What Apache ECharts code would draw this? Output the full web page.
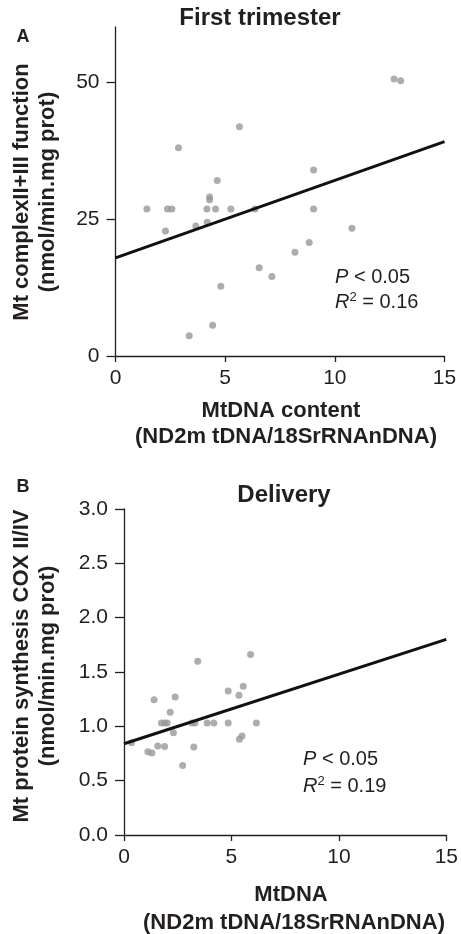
<!DOCTYPE html>
<html>
<head>
<meta charset="utf-8">
<script src="https://cdn.jsdelivr.net/npm/echarts@6/dist/echarts.min.js"></script>
<style>html,body{margin:0;padding:0;background:#fff}#c{width:461px;height:934px}</style>
</head>
<body>
<div id="c"></div>
<script>
// Panel A: First trimester
const trimesterX = [12.7, 13.0, 5.65, 2.87, 9.03, 4.64, 4.29, 4.29, 1.43, 2.37, 2.57, 4.17, 4.56, 5.26, 6.36, 9.03, 3.66, 4.18, 2.28, 10.78, 8.83, 8.18, 6.55, 7.13, 4.8, 4.43, 3.36];
const trimesterY = [50.5, 50.2, 41.8, 38.0, 33.9, 32.0, 29.0, 28.5, 26.8, 26.8, 26.8, 26.8, 26.8, 26.8, 26.8, 26.8, 23.7, 24.4, 22.8, 23.3, 20.7, 18.9, 16.1, 14.5, 12.7, 5.6, 3.7];
const trimesterFitX = [0, 15];
const trimesterFitY = [17.9, 39.1];
const trimesterYTicks = [0, 25, 50];
const trimesterXTicks = [0, 5, 10, 15];

// Panel B: Delivery
const deliveryX = [5.89, 3.43, 1.40, 2.38, 4.85, 5.35, 5.55, 2.15, 1.74, 1.89, 2.01, 3.17, 3.30, 3.87, 4.18, 4.85, 6.16, 2.30, 5.49, 5.37, 0.35, 1.57, 1.89, 3.25, 1.11, 1.30, 2.73];
const deliveryY = [1.66, 1.60, 1.245, 1.27, 1.325, 1.285, 1.37, 1.13, 1.03, 1.03, 1.03, 1.03, 1.03, 1.03, 1.03, 1.03, 1.03, 0.94, 0.91, 0.88, 0.85, 0.82, 0.815, 0.81, 0.766, 0.754, 0.64];
const deliveryFitX = [0, 15];
const deliveryFitY = [0.84, 1.80];
const deliveryYTicks = [0, 0.5, 1.0, 1.5, 2.0, 2.5, 3.0];
const deliveryXTicks = [0, 5, 10, 15];

const zip = (a, b) => a.map((v, i) => [v, b[i]]);
const FONT = '"Liberation Sans", Arial, sans-serif';
const INK = '#231f20';

function xAxis(gridIndex, ticks) {
  return {
    type: 'value', gridIndex, min: 0, max: 15, interval: 5,
    splitLine: { show: false },
    axisLine: { show: true, onZero: false, lineStyle: { color: INK, width: 1.3 } },
    axisTick: { show: true, length: 6, lineStyle: { color: INK, width: 1.3 }, customValues: ticks },
    axisLabel: { color: INK, fontSize: 21, fontFamily: FONT, margin: 12, customValues: ticks }
  };
}
function yAxis(gridIndex, max, interval, ticks, fmt) {
  return {
    type: 'value', gridIndex, min: 0, max, interval,
    splitLine: { show: false },
    axisLine: { show: true, onZero: false, lineStyle: { color: INK, width: 1.3 } },
    axisTick: { show: true, length: 9, lineStyle: { color: INK, width: 1.3 }, customValues: ticks },
    axisLabel: { color: INK, fontSize: 21, fontFamily: FONT, margin: 16, customValues: ticks, formatter: fmt }
  };
}

const chart = echarts.init(document.getElementById('c'), null, { renderer: 'canvas' });
const statRich = {
  i: { fontStyle: 'italic', fontSize: 20, fontFamily: FONT, fill: INK },
  s: { fontSize: 13, fontFamily: FONT, fill: INK, verticalAlign: 'top', padding: [0, 0, 10, 0] },
  n: { fontSize: 20, fontFamily: FONT, fill: INK }
};
function statText(x, y, txt) {
  return { type: 'text', left: x, top: y, style: { text: txt, rich: statRich, fill: INK, font: '20px ' + FONT } };
}
function boldText(x, y, txt, size, rot) {
  return {
    type: 'text', x, y, rotation: rot || 0,
    style: { text: txt, fill: INK, font: 'bold ' + size + 'px ' + FONT, align: 'center', verticalAlign: 'middle', lineHeight: 26 }
  };
}

chart.setOption({
  animation: false,
  grid: [
    { left: 115.5, top: 27, width: 329, height: 329 },
    { left: 124, top: 509, width: 327.7, height: 326 }
  ],
  xAxis: [xAxis(0, trimesterXTicks), xAxis(1, deliveryXTicks)],
  yAxis: [
    yAxis(0, 60, 25, trimesterYTicks, v => String(v)),
    yAxis(1, 3, 0.5, deliveryYTicks, v => v.toFixed(1))
  ],
  series: [
    { type: 'scatter', xAxisIndex: 0, yAxisIndex: 0, data: zip(trimesterX, trimesterY), symbolSize: 7, itemStyle: { color: '#999999' } },
    { type: 'line', xAxisIndex: 0, yAxisIndex: 0, data: zip(trimesterFitX, trimesterFitY), showSymbol: false, symbol: 'none', lineStyle: { color: '#111', width: 3 }, clip: false },
    { type: 'scatter', xAxisIndex: 1, yAxisIndex: 1, data: zip(deliveryX, deliveryY), symbolSize: 7, itemStyle: { color: '#999999' } },
    { type: 'line', xAxisIndex: 1, yAxisIndex: 1, data: zip(deliveryFitX, deliveryFitY), showSymbol: false, symbol: 'none', lineStyle: { color: '#111', width: 3 }, clip: false }
  ],
  graphic: [
    boldText(260, 18, 'First trimester', 24),
    boldText(23, 37, 'A', 18),
    boldText(35, 192, 'Mt complexII+III function\n(nmol/min.mg prot)', 22, Math.PI / 2),
    boldText(281, 411, 'MtDNA content', 22),
    boldText(286, 437, '(ND2m tDNA/18SrRNAnDNA)', 22),
    statText(335, 267, '{i|P}{n| < 0.05}'),
    statText(335, 291, '{i|R}{s|2}{n| = 0.16}'),

    boldText(284, 495, 'Delivery', 24),
    boldText(23, 487, 'B', 18),
    boldText(35, 666, 'Mt protein synthesis COX II/IV\n(nmol/min.mg prot)', 22, Math.PI / 2),
    boldText(291, 895, 'MtDNA', 22),
    boldText(294, 923, '(ND2m tDNA/18SrRNAnDNA)', 22),
    statText(303, 749, '{i|P}{n| < 0.05}'),
    statText(303, 775, '{i|R}{s|2}{n| = 0.19}')
  ]
});
</script>
</body>
</html>
